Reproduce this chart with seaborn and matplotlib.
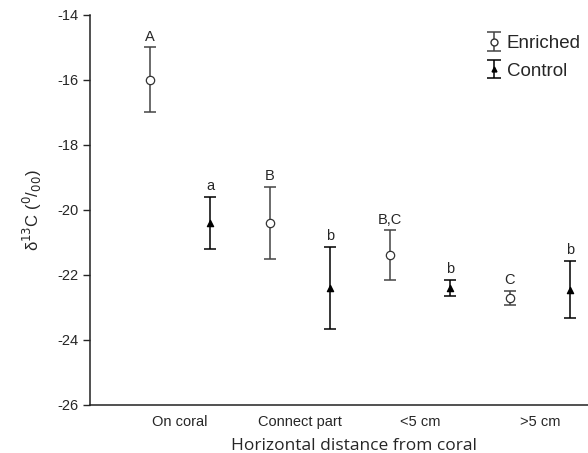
import numpy as np
import pandas as pd
import matplotlib
matplotlib.use("Agg")
import matplotlib.pyplot as plt
import seaborn as sns

# data
sites = ['On coral', 'Connect part', '<5 cm', '>5 cm']
enriched_mean = [-16.0, -20.4, -21.4, -22.7]
enriched_err = [1.0, 1.12, 0.77, 0.22]
enriched_lab = ['A', 'B', 'B,C', 'C']
control_mean = [-20.4, -22.4, -22.4, -22.45]
control_err = [0.8, 1.25, 0.25, 0.88]
control_lab = ['a', 'b', 'b', 'b']

sns.set_style('ticks')
plt.rcParams['font.family'] = ['Liberation Sans', 'DejaVu Sans']
plt.rcParams['axes.unicode_minus'] = False

pos = np.arange(len(sites))
df = pd.concat([
    pd.DataFrame({'x': pos - 0.25, 'y': enriched_mean, 'err': enriched_err,
                  'lab': enriched_lab, 'group': 'Enriched'}),
    pd.DataFrame({'x': pos + 0.25, 'y': control_mean, 'err': control_err,
                  'lab': control_lab, 'group': 'Control'}),
], ignore_index=True)

fig = plt.figure(figsize=(5.88, 4.53), dpi=100)
ax = fig.add_axes([0.153, 0.106, 0.847, 0.861])

styles = {'Enriched': dict(marker='o', mfc='white', mec='#333333', color='#444444', ms=6),
          'Control': dict(marker='^', mfc='black', mec='black', color='black', ms=4.5)}
handles = []
for g in ['Enriched', 'Control']:
    d = df[df['group'] == g]
    st = styles[g]
    ax.errorbar(d['x'], d['y'], yerr=d['err'], fmt='none', ecolor=st['color'],
                elinewidth=1.1, capsize=4.5, capthick=1.1, zorder=2)
    sns.scatterplot(data=d, x='x', y='y', marker=st['marker'], color=st['mfc'],
                    edgecolor=st['mec'], s=st['ms'] ** 2, linewidth=0.9, ax=ax,
                    zorder=3, legend=False)
    handles.append(ax.errorbar([np.nan], [np.nan], yerr=[1], fmt=st['marker'], mfc=st['mfc'],
                               mec=st['mec'], ms=st['ms'] - 1, ecolor=st['color'],
                               elinewidth=1.1, capsize=5, capthick=1.1))
    for _, r in d.iterrows():
        ax.text(r['x'], r['y'] + r['err'] + 0.12, r['lab'], ha='center', va='bottom',
                fontsize=10.5)

ax.set_xlim(-0.75, 3.4)
ax.set_ylim(-26, -14)
ax.set_yticks(np.arange(-26, -13, 2))
ax.set_xticks(pos)
ax.set_xticklabels(sites, fontsize=10.5)
ax.tick_params(axis='x', length=0, pad=7)
ax.tick_params(axis='y', labelsize=10.5, length=5, width=1)
for s in ['top', 'right']:
    ax.spines[s].set_visible(False)
for s in ['left', 'bottom']:
    ax.spines[s].set_linewidth(1.1)
    ax.spines[s].set_color('#222222')

ax.set_xlabel('Horizontal distance from coral', fontsize=12.5, family='Open Sans')
ax.xaxis.set_label_coords(0.53, -0.085)
ax.set_ylabel('δ$^{13}$C ($^{0}$/$_{00}$)', fontsize=12, labelpad=9)

leg = ax.legend(handles, ['Enriched', 'Control'], loc='upper left',
                bbox_to_anchor=(486 / 588, 1 - 35 / 453), bbox_transform=fig.transFigure,
                frameon=False, handlelength=0.9, handletextpad=0.2, labelspacing=0.55,
                borderpad=0, borderaxespad=0, prop={'size': 13.5})

fig.savefig('out.png', dpi=100)
